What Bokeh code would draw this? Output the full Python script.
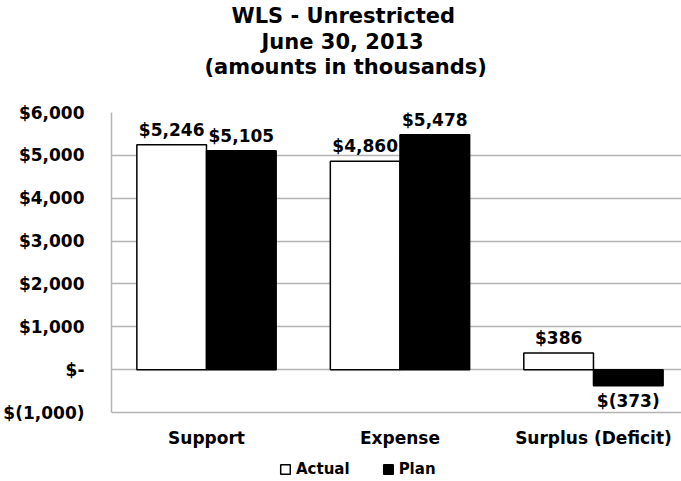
from bokeh.plotting import figure
from bokeh.models import (ColumnDataSource, Range1d, FixedTicker, Legend, LegendItem, Title)
from bokeh.core.properties import value
from bokeh.embed import file_html
from bokeh.resources import INLINE

categories = ["Support", "Expense", "Surplus (Deficit)"]
actual = [5246, 4860, 386]
plan = [5105, 5478, -373]
y_ticks = [-1000, 0, 1000, 2000, 3000, 4000, 5000, 6000]
y_tick_labels = ["$(1,000)", "$-", "$1,000", "$2,000", "$3,000", "$4,000", "$5,000", "$6,000"]
title_lines = ["WLS - Unrestricted", "June 30, 2013", "(amounts in thousands)"]
series_names = ["Actual", "Plan"]

FONT = "DejaVu Sans"
BW = 0.36  # width of one bar, in category units

def money(v):
    return f"${v:,}" if v >= 0 else f"$({-v:,})"

def cols(vals, shift):
    idx = list(range(len(vals)))
    return dict(
        x=[i + shift for i in idx],
        val=vals,
        txt=[money(v) for v in vals],
        base=["bottom" if v >= 0 else "top" for v in vals],
        yoff=[-5 if v >= 0 else 5 for v in vals],
    )

src_a = ColumnDataSource(cols(actual, -BW / 2))
src_p = ColumnDataSource(cols(plan, BW / 2))
x_ticks = list(range(len(categories)))
src_cat = ColumnDataSource(dict(x=x_ticks, y=[y_ticks[0]] * len(categories), txt=categories))

# plot area: value axis spans 300 px, 69 px of room kept below it for category names and legend
y_lo, y_hi = y_ticks[0], y_ticks[-1]
y_start = y_lo - (69 / 300) * (y_hi - y_lo)

p = figure(
    x_range=Range1d(-0.491, 2.455),
    y_range=Range1d(y_start, y_hi),
    width=681, height=481,
    output_backend="svg", toolbar_location=None,
    min_border_left=110, min_border_right=0, min_border_top=112, min_border_bottom=0,
)
p.background_fill_color = "white"
p.border_fill_color = "white"
p.outline_line_color = None

# title lines, stacked outward from the frame: (text, line height, left offset)
title_specs = [
    (title_lines[2] + "\n\n", 0.69, 93),
    (title_lines[1], 0.56, 150),
    (title_lines[0], 0.78, 120),
]
for txt, lh, off in title_specs:
    p.add_layout(Title(text=txt, align="left", offset=off,
                       text_font=FONT, text_font_style="bold", text_font_size="21px",
                       text_line_height=lh, text_color="black", standoff=0), "above")

ra = p.vbar(x="x", top="val", bottom=0, width=BW, source=src_a,
            fill_color="white", line_color="black", line_width=1.5)
rp = p.vbar(x="x", top="val", bottom=0, width=BW, source=src_p,
            fill_color="black", line_color="black", line_width=1.5)

for s in (src_a, src_p):
    p.text(x="x", y="val", text="txt", source=s,
           text_align="center", text_baseline="base", y_offset="yoff",
           text_font=value(FONT), text_font_style="bold", text_font_size="17px", text_color="black")

# category names under the value axis
p.text(x="x", y="y", text="txt", source=src_cat, text_align="center", text_baseline="middle",
       y_offset=25, text_font=value(FONT), text_font_style="bold", text_font_size="17px",
       text_color="black")

p.xgrid.visible = False
p.ygrid.grid_line_color = "#b3b3b3"
p.ygrid.grid_line_width = 1.5
p.ygrid.ticker = FixedTicker(ticks=y_ticks)

p.yaxis.ticker = FixedTicker(ticks=y_ticks)
p.yaxis.bounds = (y_lo, y_hi)
p.yaxis.major_label_overrides = {t_: l for t_, l in zip(y_ticks, y_tick_labels)}
p.yaxis.axis_line_color = "#b3b3b3"
p.yaxis.axis_line_width = 1.5
p.yaxis.major_tick_line_color = None
p.yaxis.major_tick_out = 0
p.yaxis.major_tick_in = 0
p.yaxis.minor_tick_line_color = None
p.yaxis.minor_tick_out = 0
p.yaxis.major_label_standoff = 27
p.yaxis.major_label_text_font = FONT
p.yaxis.major_label_text_font_style = "bold"
p.yaxis.major_label_text_font_size = "17px"
p.yaxis.major_label_text_color = "black"

p.xaxis.visible = False

legend = Legend(items=[LegendItem(label=series_names[0], renderers=[ra]),
                       LegendItem(label=series_names[1], renderers=[rp])],
                orientation="horizontal", location=(168, 3), padding=0, margin=0, spacing=32,
                glyph_width=12, glyph_height=12, label_standoff=5,
                label_text_font=FONT, label_text_font_style="bold", label_text_font_size="15px",
                label_text_color="black",
                border_line_color=None, background_fill_alpha=0)
p.add_layout(legend, "center")

open("out.html", "w").write(file_html(p, INLINE))
